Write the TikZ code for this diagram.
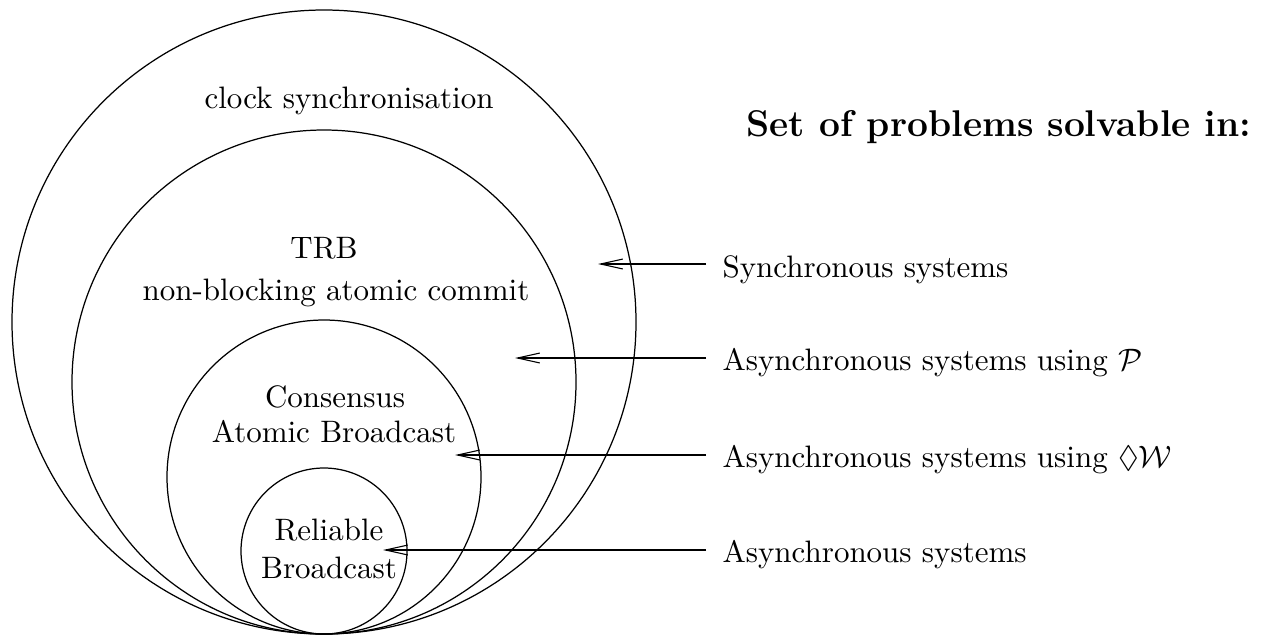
\documentclass[tikz,border=0pt]{standalone}
\usepackage{amssymb}
\usetikzlibrary{arrows.meta}
\begin{document}
\begin{tikzpicture}[x=0.3226pt,y=-0.3226pt,
  ring/.style={circle,draw,line width=0.4pt,inner sep=0pt},
  intext/.style={anchor=base,inner sep=0pt},
  lab/.style={anchor=base west,inner sep=0pt},
  pointer/.style={line width=0.35pt,-{Straight Barb[length=7.2pt,width=3.2pt]}}]
\useasboundingbox (0,0) rectangle (1263,637);
% circles, all tangent at bottom point
\node[ring,minimum size=201.30pt] (c1) at (324,322) {};
\node[ring,minimum size=162.59pt] (c2) at (324,382) {};
\node[ring,minimum size=101.30pt] (c3) at (324,477) {};
\node[ring,minimum size=53.55pt]  (c4) at (324,551) {};
% texts inside circles
\node[intext] (t1) at (349,108) {clock synchronisation};
\node[intext] (t2a) at (324,258) {TRB};
\node[intext] (t2b) at (336,300) {non-blocking atomic commit};
\node[intext] (t3a) at (335,407) {Consensus};
\node[intext] (t3b) at (334,442) {Atomic Broadcast};
\node[intext] (t4a) at (329,540) {Reliable};
\node[intext] (t4b) at (329,578) {Broadcast};
% right side
\node[lab] (head) at (746,136) {\large\bfseries Set of problems solvable in:};
\node[lab] (l1) at (722,277) {Synchronous systems};
\node[lab] (l2) at (722,370) {Asynchronous systems using $\mathcal{P}$};
\node[lab] (l3) at (722,467) {Asynchronous systems using $\Diamond\mathcal{W}$};
\node[lab] (l4) at (722,562) {Asynchronous systems};
% arrows
\coordinate (s1) at (706,264); \coordinate (e1) at (598,264);
\coordinate (s2) at (706,358); \coordinate (e2) at (515,358);
\coordinate (s3) at (706,455); \coordinate (e3) at (455,455);
\coordinate (s4) at (706,550); \coordinate (e4) at (383,550);
\draw[pointer] (s1) -- (e1);
\draw[pointer] (s2) -- (e2);
\draw[pointer] (s3) -- (e3);
\draw[pointer] (s4) -- (e4);
\end{tikzpicture}
\end{document}
